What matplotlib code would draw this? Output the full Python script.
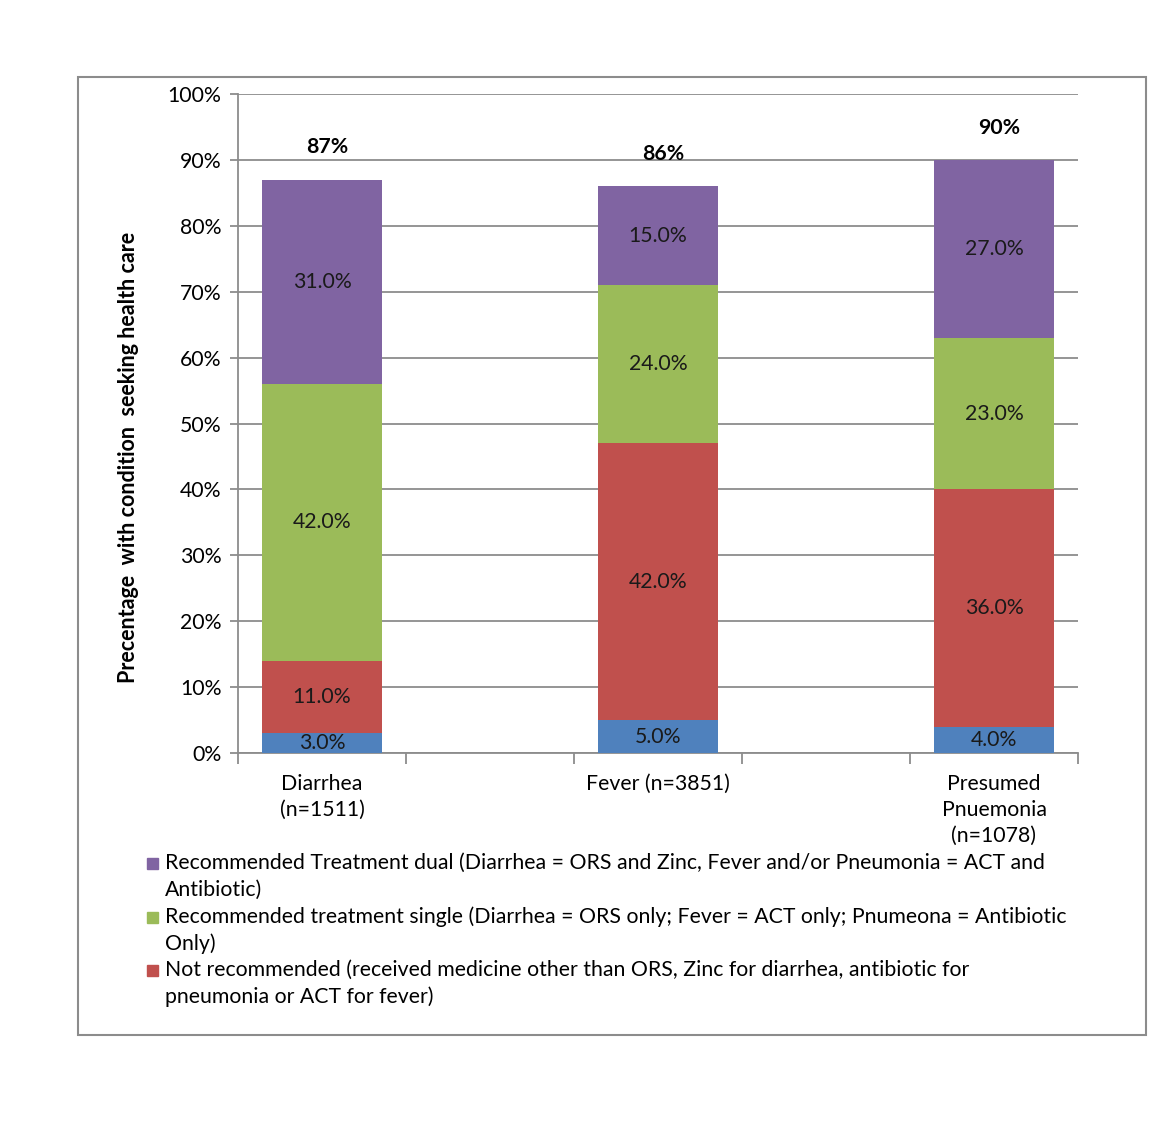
import matplotlib
matplotlib.use("Agg")
import matplotlib.pyplot as plt
from matplotlib.patches import Rectangle
import numpy as np

plt.rcParams['font.family'] = ['Lato', 'DejaVu Sans']

categories = ["Diarrhea\n(n=1511)", "Fever (n=3851)", "Presumed\nPnuemonia\n(n=1078)"]
blue_vals = [3.0, 5.0, 4.0]
red_vals = [11.0, 42.0, 36.0]
green_vals = [42.0, 24.0, 23.0]
purple_vals = [31.0, 15.0, 27.0]
totals = [87, 86, 90]

series_names = [
    "Recommended Treatment dual (Diarrhea = ORS and Zinc, Fever and/or Pneumonia = ACT and\nAntibiotic)",
    "Recommended treatment single (Diarrhea = ORS only; Fever = ACT only; Pnumeona = Antibiotic\nOnly)",
    "Not recommended (received medicine other than ORS, Zinc for diarrhea, antibiotic for\npneumonia or ACT for fever)",
]

C_BLUE = "#4F81BD"
C_RED = "#C0504D"
C_GREEN = "#9BBB59"
C_PURPLE = "#8064A2"
GRID = "#8C8C8C"
FS = 15.3

W, H = 1169, 1125
fig = plt.figure(figsize=(W / 100, H / 100), dpi=100)

# outer frame
fig.patches.append(Rectangle((78 / W, 1 - 1035 / H), (1146 - 78) / W, (1035 - 77) / H,
                             transform=fig.transFigure, fill=False, edgecolor="#8C8C8C", lw=1.5))

ax = fig.add_axes([238 / W, 1 - 753 / H, (1078 - 238) / W, (753 - 94) / H])

x = np.arange(len(categories)) * 2
bw = 0.71
layers = [(blue_vals, C_BLUE), (red_vals, C_RED), (green_vals, C_GREEN), (purple_vals, C_PURPLE)]
bottom = np.zeros(len(categories))
for vals, col in layers:
    v = np.array(vals)
    ax.bar(x, v, bw, bottom=bottom, color=col, zorder=3)
    for xi, b, vi in zip(x, bottom, v):
        ax.text(xi, b + vi / 2, f"{vi:.1f}%", ha="center", va="center", fontsize=FS,
                color="#1a1a1a", zorder=4)
    bottom = bottom + v

for xi, t in zip(x, totals):
    ax.text(xi + 0.03, t + 4.9, f"{t}%", ha="center", va="center", fontsize=FS,
            fontweight="bold", color="black")

ax.set_xlim(-0.5, 4.5)
ax.set_ylim(0, 100)
ax.set_yticks(np.arange(0, 101, 10))
ax.set_yticklabels([f"{v}%" for v in range(0, 101, 10)], fontsize=FS)
ax.yaxis.grid(True, color=GRID, lw=1.3, zorder=0)
ax.set_axisbelow(True)

ax.set_xticks(x)
ax.set_xticklabels(categories, fontsize=FS, linespacing=1.38, va="top")
ax.tick_params(axis="x", which="major", length=0, pad=15)
ax.set_xticks(np.arange(-0.5, 5.0, 1.0), minor=True)
ax.tick_params(axis="x", which="minor", length=8, width=1.3, color=GRID, direction="out")
ax.tick_params(axis="y", length=6, width=1.3, color=GRID, direction="out", pad=6)

for s in ["top", "right"]:
    ax.spines[s].set_visible(False)
for s in ["left", "bottom"]:
    ax.spines[s].set_color(GRID)
    ax.spines[s].set_linewidth(1.3)

ax.set_ylabel("Precentage  with condition  seeking health care", fontsize=15.5, fontweight="bold")
ax.yaxis.set_label_coords((139 - 238) / 840, (753 - 457) / 659)

# legend (manual)
leg_cols = [C_PURPLE, C_GREEN, C_RED]
y_top = [863, 917, 970]
for name, col, yt in zip(series_names, leg_cols, y_top):
    fig.patches.append(Rectangle((147 / W, 1 - (yt + 6) / H), 11 / W, 11 / H,
                                 transform=fig.transFigure, color=col))
    for k, line in enumerate(name.split("\n")):
        fig.text(165 / W, 1 - (yt + 27 * k) / H, line, fontsize=FS, va="center", ha="left")

fig.savefig("out.png", dpi=100)
